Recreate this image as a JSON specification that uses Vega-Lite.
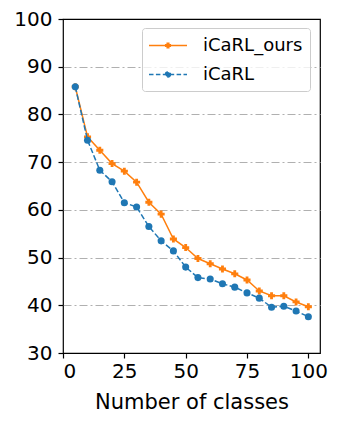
{
  "$schema": "https://vega.github.io/schema/vega-lite/v6.json",
  "width": 257,
  "height": 334,
  "autosize": {"type": "none"},
  "padding": {"left": 63, "top": 19, "right": 19, "bottom": 70},
  "background": "white",
  "config": {
    "font": "DejaVu Sans",
    "view": {"stroke": "black", "strokeWidth": 1.2},
    "axis": {
      "domain": false,
      "tickColor": "black",
      "tickSize": 5,
      "tickWidth": 1.2,
      "labelColor": "black",
      "labelFontSize": 20,
      "titleColor": "black",
      "titleFontSize": 21,
      "titleFontWeight": "normal"
    }
  },
  "data": {
    "values": [
      {"classes": 5, "acc": 85.8, "series": "iCaRL_ours"},
      {"classes": 10, "acc": 75.3, "series": "iCaRL_ours"},
      {"classes": 15, "acc": 72.5, "series": "iCaRL_ours"},
      {"classes": 20, "acc": 69.7, "series": "iCaRL_ours"},
      {"classes": 25, "acc": 68.1, "series": "iCaRL_ours"},
      {"classes": 30, "acc": 65.8, "series": "iCaRL_ours"},
      {"classes": 35, "acc": 61.6, "series": "iCaRL_ours"},
      {"classes": 40, "acc": 59.1, "series": "iCaRL_ours"},
      {"classes": 45, "acc": 53.9, "series": "iCaRL_ours"},
      {"classes": 50, "acc": 52.1, "series": "iCaRL_ours"},
      {"classes": 55, "acc": 49.8, "series": "iCaRL_ours"},
      {"classes": 60, "acc": 48.7, "series": "iCaRL_ours"},
      {"classes": 65, "acc": 47.6, "series": "iCaRL_ours"},
      {"classes": 70, "acc": 46.6, "series": "iCaRL_ours"},
      {"classes": 75, "acc": 45.3, "series": "iCaRL_ours"},
      {"classes": 80, "acc": 43.0, "series": "iCaRL_ours"},
      {"classes": 85, "acc": 42.0, "series": "iCaRL_ours"},
      {"classes": 90, "acc": 42.0, "series": "iCaRL_ours"},
      {"classes": 95, "acc": 40.7, "series": "iCaRL_ours"},
      {"classes": 100, "acc": 39.7, "series": "iCaRL_ours"},
      {"classes": 5, "acc": 85.8, "series": "iCaRL"},
      {"classes": 10, "acc": 74.6, "series": "iCaRL"},
      {"classes": 15, "acc": 68.3, "series": "iCaRL"},
      {"classes": 20, "acc": 65.9, "series": "iCaRL"},
      {"classes": 25, "acc": 61.5, "series": "iCaRL"},
      {"classes": 30, "acc": 60.6, "series": "iCaRL"},
      {"classes": 35, "acc": 56.5, "series": "iCaRL"},
      {"classes": 40, "acc": 53.5, "series": "iCaRL"},
      {"classes": 45, "acc": 51.4, "series": "iCaRL"},
      {"classes": 50, "acc": 48.0, "series": "iCaRL"},
      {"classes": 55, "acc": 45.8, "series": "iCaRL"},
      {"classes": 60, "acc": 45.5, "series": "iCaRL"},
      {"classes": 65, "acc": 44.5, "series": "iCaRL"},
      {"classes": 70, "acc": 43.8, "series": "iCaRL"},
      {"classes": 75, "acc": 42.6, "series": "iCaRL"},
      {"classes": 80, "acc": 41.5, "series": "iCaRL"},
      {"classes": 85, "acc": 39.6, "series": "iCaRL"},
      {"classes": 90, "acc": 39.8, "series": "iCaRL"},
      {"classes": 95, "acc": 38.8, "series": "iCaRL"},
      {"classes": 100, "acc": 37.6, "series": "iCaRL"}
    ]
  },
  "encoding": {
    "x": {
      "field": "classes",
      "type": "quantitative",
      "scale": {"domain": [0, 104.75], "nice": false, "zero": false},
      "axis": {
        "values": [0, 25, 50, 75, 100],
        "title": "Number of classes",
        "grid": false,
        "labelPadding": 3,
        "titlePadding": 10
      }
    },
    "y": {
      "field": "acc",
      "type": "quantitative",
      "scale": {"domain": [30, 100], "nice": false, "zero": false},
      "axis": {
        "values": [30, 40, 50, 60, 70, 80, 90, 100],
        "title": null,
        "grid": true,
        "gridColor": "#b0b0b0",
        "gridWidth": 1,
        "gridDash": [8, 3, 2, 3],
        "gridOpacity": {"condition": {"test": "datum.value == 30 || datum.value == 100", "value": 0}, "value": 1},
        "labelPadding": 6
      }
    },
    "color": {
      "field": "series",
      "type": "nominal",
      "scale": {"domain": ["iCaRL_ours", "iCaRL"], "range": ["#ff7f0e", "#1f77b4"]},
      "legend": {
        "orient": "none",
        "legendX": 79,
        "legendY": 9,
        "title": null,
        "symbolSize": 361,
        "symbolStrokeWidth": 1.5,
        "symbolOpacity": 1,
        "labelFontSize": 18,
        "labelColor": "black",
        "labelOffset": 33,
        "padding": 7,
        "rowPadding": 9,
        "fillColor": "rgba(255,255,255,0.8)",
        "strokeColor": "#cccccc",
        "cornerRadius": 3,
        "encode": {
          "symbols": {
            "update": {
              "shape": {"signal": "datum.value === 'iCaRL' ? 'M-1.105,0H2.895M1.158,0A0.263,0.263,0,1,1,0.632,0A0.263,0.263,0,1,1,1.158,0Z' : 'M-1.105,0H2.895M0.811,-0.242H0.979V-0.084H1.137V0.084H0.979V0.242H0.811V0.084H0.653V-0.084H0.811Z'"},
              "strokeDash": {"signal": "datum.value === 'iCaRL' ? [4.5, 2.4] : [1, 0]"},
              "fill": {"scale": "color", "field": "value"},
              "stroke": {"scale": "color", "field": "value"},
              "strokeWidth": {"value": 1.5},
              "opacity": {"value": 1}
            }
          }
        }
      }
    }
  },
  "layer": [
    {
      "transform": [{"filter": "datum.series === 'iCaRL_ours'"}],
      "mark": {"type": "line", "strokeWidth": 1.5}
    },
    {
      "transform": [{"filter": "datum.series === 'iCaRL_ours'"}],
      "mark": {"type": "point", "filled": true, "opacity": 1, "size": 50, "shape": "cross"}
    },
    {
      "transform": [{"filter": "datum.series === 'iCaRL'"}],
      "mark": {"type": "line", "strokeWidth": 1.5, "strokeDash": [5.5, 2.4]}
    },
    {
      "transform": [{"filter": "datum.series === 'iCaRL'"}],
      "mark": {"type": "point", "filled": true, "opacity": 1, "size": 50, "shape": "circle"}
    }
  ]
}
